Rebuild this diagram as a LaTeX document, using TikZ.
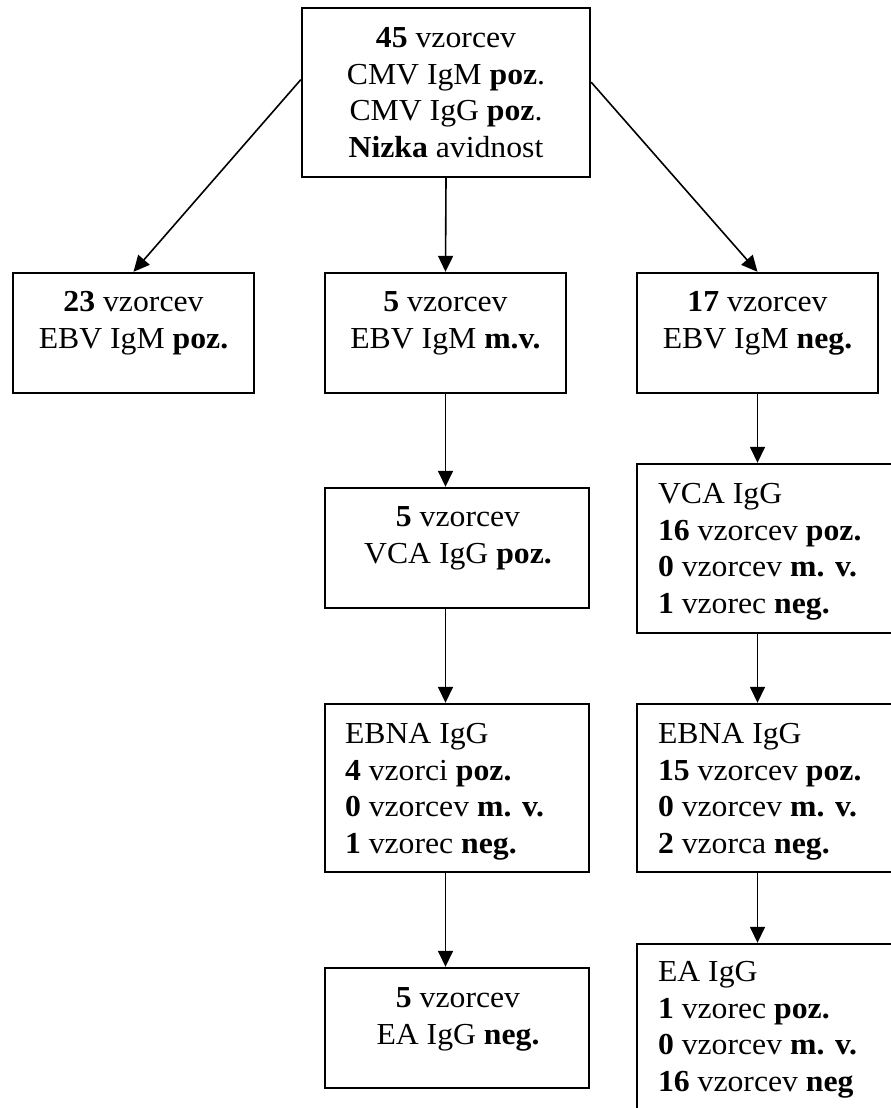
\documentclass[tikz,border=0pt]{standalone}
\usepackage{fontspec}
\setmainfont{Liberation Serif}[FakeStretch=1.04]
\usetikzlibrary{arrows.meta,calc}

\tikzset{
  box/.style={draw, line width=2.4pt, inner sep=0pt},
  txt/.style={inner sep=0pt, align=center, font=\fontsize{30.5}{36.5}\selectfont},
  txtl/.style={inner sep=0pt, align=left, font=\fontsize{30.5}{36.5}\selectfont},
  conn/.style={-{Triangle[length=16pt,width=15pt]}, line width=1.6pt},
}

% the base anchor of a multi-line node sits on its last line:
% two-line texts end 36.5pt, four-line texts 109.5pt below the first baseline
\begin{document}
\begin{tikzpicture}[x=1pt, y=-1pt]
  \useasboundingbox (0,0) rectangle (891,1108);
  \clip (0,0) rectangle (891,1108);

  % boxes
  \node[box, minimum width=288pt, minimum height=169pt] (top) at (446,92.5) {};
  \node[box, minimum width=241pt, minimum height=120pt] (L) at (133.5,333) {};
  \node[box, minimum width=241pt, minimum height=120pt] (M) at (445.5,333) {};
  \node[box, minimum width=241pt, minimum height=120pt] (R) at (757.5,333) {};
  \node[box, minimum width=264pt, minimum height=120pt] (M2) at (457,548) {};
  \node[box, minimum width=264pt, minimum height=169pt] (R2) at (769,548.5) {};
  \node[box, minimum width=264pt, minimum height=168pt] (M3) at (457,788) {};
  \node[box, minimum width=264pt, minimum height=168pt] (R3) at (769,788) {};
  \node[box, minimum width=264pt, minimum height=120pt] (M4) at (457,1028) {};
  \node[box, minimum width=264pt, minimum height=190pt] (R4) at (769,1039) {};

  % texts
  \node[txt, anchor=base] (ttop) at ($(top.north)+(0,150.5)$)
    {\textbf{45} vzorcev\\CMV IgM \textbf{poz}.\\CMV IgG \textbf{poz}.\\\textbf{Nizka} avidnost};
  \node[txt, anchor=base] (tL) at ($(L.north)+(0,76.5)$)
    {\textbf{23} vzorcev\\EBV IgM \textbf{poz.}};
  \node[txt, anchor=base] (tM) at ($(M.north)+(0,76.5)$)
    {\textbf{5} vzorcev\\EBV IgM \textbf{m.v.}};
  \node[txt, anchor=base] (tR) at ($(R.north)+(0,76.5)$)
    {\textbf{17} vzorcev\\EBV IgM \textbf{neg.}};
  \node[txt, anchor=base] (tM2) at ($(M2.north)+(1,76.5)$)
    {\textbf{5} vzorcev\\VCA IgG \textbf{poz.}};
  \node[txtl, anchor=base west] (tR2) at ($(R2.north west)+(22,150.5)$)
    {VCA IgG\\\textbf{16} vzorcev \textbf{poz.}\\\textbf{0} vzorcev \textbf{m. v.}\\\textbf{1} vzorec \textbf{neg.}};
  \node[txtl, anchor=base west] (tM3) at ($(M3.north west)+(21,150.5)$)
    {EBNA IgG\\\textbf{4} vzorci \textbf{poz.}\\\textbf{0} vzorcev \textbf{m. v.}\\\textbf{1} vzorec \textbf{neg.}};
  \node[txtl, anchor=base west] (tR3) at ($(R3.north west)+(22,150.5)$)
    {EBNA IgG\\\textbf{15} vzorcev \textbf{poz.}\\\textbf{0} vzorcev \textbf{m. v.}\\\textbf{2} vzorca \textbf{neg.}};
  \node[txt, anchor=base] (tM4) at ($(M4.north)+(1,77.5)$)
    {\textbf{5} vzorcev\\EA IgG \textbf{neg.}};
  \node[txtl, anchor=base west] (tR4) at ($(R4.north west)+(22,148.5)$)
    {EA IgG\\\textbf{1} vzorec \textbf{poz.}\\\textbf{0} vzorcev \textbf{m. v.}\\\textbf{16} vzorcev \textbf{neg}};

  % connectors
  \draw[conn] ($(top.north west)!0.425!(top.south west)$) -- (L.north);
  \draw[conn] (top.south) -- (M.north);
  \draw[conn] ($(top.north east)!0.44!(top.south east)$) -- (R.north);
  \draw[conn] (M.south) -- (M.south |- M2.north);
  \draw[conn] (M.south |- M2.south) -- (M.south |- M3.north);
  \draw[conn] (M.south |- M3.south) -- (M.south |- M4.north);
  \draw[conn] (R.south) -- (R.south |- R2.north);
  \draw[conn] (R.south |- R2.south) -- (R.south |- R3.north);
  \draw[conn] (R.south |- R3.south) -- (R.south |- R4.north);
\end{tikzpicture}
\end{document}
